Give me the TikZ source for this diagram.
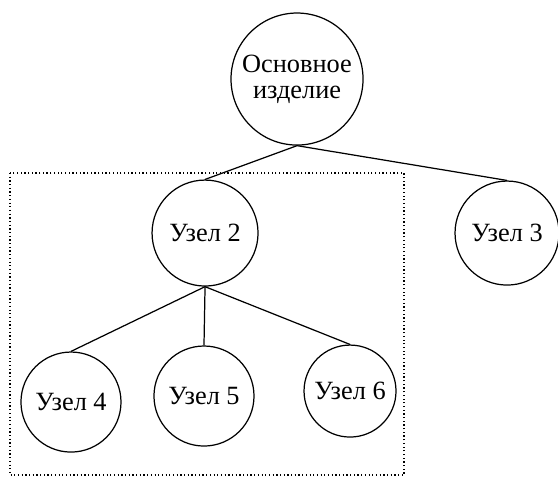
\documentclass[tikz,border=0pt]{standalone}
\usepackage{fontspec}
\setmainfont{Liberation Serif}
\usetikzlibrary{positioning}

\tikzset{
	unit/.style = {circle, draw, line width=0.5pt, inner sep=0pt, align=center, font=\fontsize{10.7}{10.5}\selectfont},
}

\begin{document}
\begin{tikzpicture}[line width=0.5pt]
	\useasboundingbox (0,0) rectangle (7.971,-6.8);

	\node[unit, minimum size=1.886cm] (main) at (4.243,-1.129) {Основное\\изделие};
	\node[unit, minimum size=1.514cm] (n2) at (2.929,-3.329) {Узел 2};
	\node[unit, minimum size=1.486cm] (n3) at (7.243,-3.329) {Узел 3};
	\node[unit, minimum size=1.429cm] (n4) at (1.014,-5.743) {Узел 4};
	\node[unit, minimum size=1.429cm] (n5) at (2.914,-5.657) {Узел 5};
	\node[unit, minimum size=1.314cm] (n6) at (5.0,-5.586) {Узел 6};

	% group of Узел 2
	\draw[densely dotted] (0.143,-2.471) rectangle (5.771,-6.786);

	\draw (main.south) -- (n2.north);
	\draw (main.south) -- (n3.north);
	\foreach \child in {n4, n5, n6} {
			\draw (n2.south) -- (\child.north);
		}

\end{tikzpicture}
\end{document}
